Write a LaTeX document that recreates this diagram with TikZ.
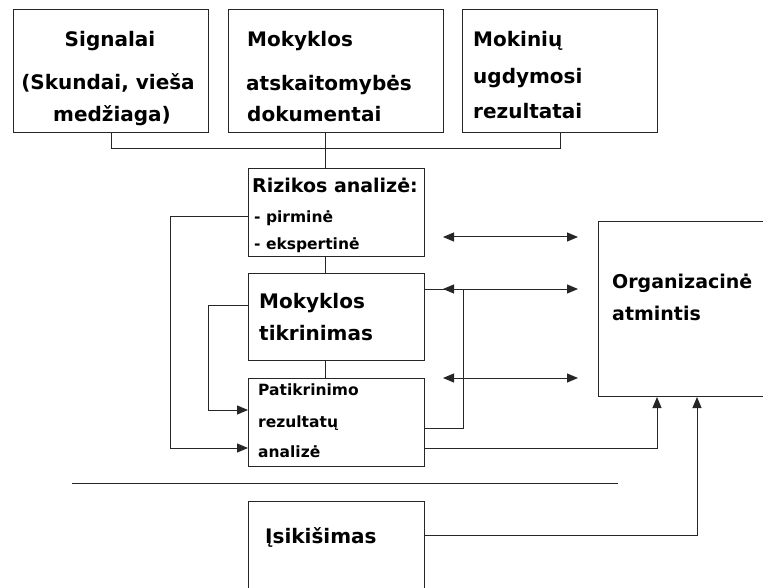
\documentclass[tikz,border=0pt]{standalone}
\usepackage{fontspec}
\setmainfont{DejaVu Sans}
\usetikzlibrary{arrows.meta}
\begin{document}
\begin{tikzpicture}[x=1pt,y=-1pt,
  boxst/.style={draw=black!85,line width=1pt,rectangle,inner sep=0pt,anchor=north west},
  big/.style={font=\bfseries\fontsize{20}{20}\selectfont,inner sep=0pt},
  mid/.style={font=\bfseries\fontsize{19}{19}\selectfont,inner sep=0pt},
  small/.style={font=\bfseries\fontsize{15.5}{15.5}\selectfont,inner sep=0pt},
  conn/.style={draw=black!85,line width=1pt},
  arr/.style={conn,-{Triangle[length=11pt,width=9pt]}},
  darr/.style={conn,{Triangle[length=11pt,width=9pt]}-{Triangle[length=11pt,width=9pt]}}]
\useasboundingbox (0,0) rectangle (763,588);
\clip (0,0) rectangle (763,588);
% boxes
\node[boxst,minimum width=195pt,minimum height=123pt] (sig) at (13,9) {};
\node[boxst,minimum width=215pt,minimum height=123pt] (mok) at (228,9) {};
\node[boxst,minimum width=195pt,minimum height=123pt] (mkn) at (462,9) {};
\node[boxst,minimum width=176pt,minimum height=88pt] (riz) at (248,168) {};
\node[boxst,minimum width=176pt,minimum height=87pt] (tik) at (248,273) {};
\node[boxst,minimum width=176pt,minimum height=88pt] (pat) at (248,378) {};
\node[boxst,minimum width=176pt,minimum height=120pt] (isi) at (248,501) {};
\node[boxst,minimum width=200pt,minimum height=175pt] (org) at (598,221) {};
% texts
\node[big,anchor=base] (t1a) at (110,47) {Signalai};
\node[big,anchor=base] (t1b) at (108,90) {(Skundai, vieša};
\node[big,anchor=base] (t1c) at (112,122) {medžiaga)};
\node[big,anchor=base west] (t2a) at (247,47) {Mokyklos};
\node[big,anchor=base west] (t2b) at (246,91) {atskaitomybės};
\node[big,anchor=base west] (t2c) at (247,122) {dokumentai};
\node[big,anchor=base west] (t3a) at (473,47) {Mokinių};
\node[big,anchor=base west] (t3b) at (473,84) {ugdymosi};
\node[big,anchor=base west] (t3c) at (473,119) {rezultatai};
\node[mid,anchor=base west] (t4a) at (252,193) {Rizikos analizė:};
\node[small,anchor=base west] (t4b) at (254,223) {- pirminė};
\node[small,anchor=base west] (t4c) at (254,250) {- ekspertinė};
\node[big,anchor=base west] (t5a) at (259,308) {Mokyklos};
\node[big,anchor=base west] (t5b) at (259,340) {tikrinimas};
\node[small,anchor=base west] (t6a) at (258,395) {Patikrinimo};
\node[small,anchor=base west] (t6b) at (258,427) {rezultatų};
\node[small,anchor=base west] (t6c) at (258,457) {analizė};
\node[big,anchor=base west] (t7) at (265,543) {Įsikišimas};
\node[mid,anchor=base west] (t8a) at (612,288) {Organizacinė};
\node[mid,anchor=base west] (t8b) at (612,320) {atmintis};
% helper coordinates
\coordinate (c1) at (111,149);
\coordinate (c3) at (560,149);
% top connector
\draw[conn] (sig.south -| c1) -- (c1) -- (c3) -- (mkn.south -| c3);
\draw[conn] (mok.south -| 325,0) -- (riz.north -| 325,0);
\draw[conn] (riz.south -| 325,0) -- (tik.north -| 325,0);
\draw[conn] (tik.south -| 325,0) -- (pat.north -| 325,0);
% left feedback
\draw[arr] (riz.west |- 0,217) -- (170,217) -- (170,448) -- (pat.west |- 0,448);
\draw[arr] (tik.west |- 0,305) -- (208,305) -- (208,410) -- (pat.west |- 0,410);
% right loop
\draw[conn] (pat.east |- 0,428) -- (463,428) -- (463,289) -- (tik.east |- 0,289);
% double arrows
\coordinate (a1l) at (443,237); \coordinate (a1r) at (578,237);
\coordinate (a2l) at (443,289); \coordinate (a2r) at (578,289);
\coordinate (a3l) at (443,378); \coordinate (a3r) at (578,378);
\draw[darr] (a1l) -- (a1r);
\draw[darr] (a2l) -- (a2r);
\draw[darr] (a3l) -- (a3r);
% to org
\draw[arr] (pat.east |- 0,448) -- (657,448) -- (org.south -| 657,0);
\draw[arr] (isi.east |- 0,535) -- (697,535) -- (org.south -| 697,0);
% separator
\coordinate (s1) at (72,483); \coordinate (s2) at (618,483);
\draw[conn] (s1) -- (s2);
\end{tikzpicture}
\end{document}
